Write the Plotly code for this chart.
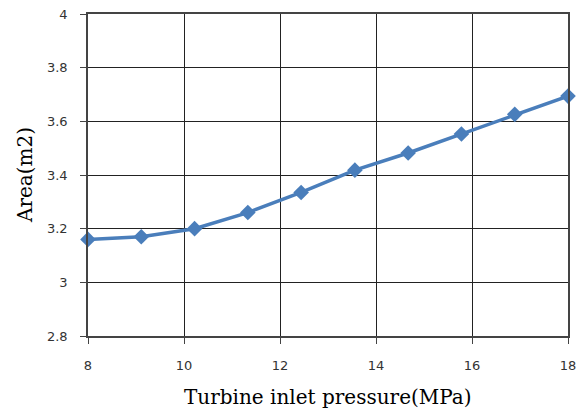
import plotly.graph_objects as go

pressure = [8, 9.11, 10.22, 11.33, 12.44, 13.56, 14.67, 15.78, 16.89, 18]
area = [3.16, 3.17, 3.20, 3.26, 3.335, 3.418, 3.482, 3.553, 3.626, 3.694]

x_title = "Turbine inlet pressure(MPa)"
y_title = "Area(m2)"

fig = go.Figure()
fig.add_trace(go.Scatter(
    x=pressure, y=area, mode="lines+markers",
    line=dict(color="#4a7ebb", width=3.5),
    marker=dict(symbol="diamond", size=12, color="#4a7ebb"),
    cliponaxis=False, showlegend=False,
))

tickfont = dict(family="DejaVu Sans", size=13, color="#333333")
titlefont = dict(family="DejaVu Serif", size=20, color="black")
fig.update_layout(
    width=581, height=414,
    margin=dict(l=88, r=13, t=14, b=78),
    paper_bgcolor="white", plot_bgcolor="white",
    xaxis=dict(
        range=[8, 18], dtick=2, tick0=8, automargin=False,
        showgrid=True, gridcolor="#222222", gridwidth=1.3,
        showline=True, linecolor="#444444", linewidth=1.5, mirror=True,
        ticks="outside", ticklen=6, tickcolor="#444444",
        tickfont=tickfont, ticklabelstandoff=11,
        zeroline=False,
    ),
    yaxis=dict(
        range=[2.8, 4], dtick=0.2, tick0=2.8, automargin=False,
        showgrid=True, gridcolor="#222222", gridwidth=1.3,
        showline=True, linecolor="#444444", linewidth=1.5, mirror=True,
        ticks="outside", ticklen=6, tickcolor="#444444",
        tickfont=tickfont, ticklabelstandoff=10,
        zeroline=False,
    ),
    annotations=[
        dict(text=x_title, xref="paper", yref="paper", x=0.5, y=0,
             yshift=-61, xanchor="center", yanchor="middle",
             showarrow=False, font=titlefont),
        dict(text=y_title, xref="paper", yref="paper", x=0, y=0.5,
             xshift=-63, xanchor="center", yanchor="middle", textangle=-90,
             showarrow=False, font=titlefont),
    ],
)

fig.write_html(
    "out.html",
    config={"displayModeBar": False},
    post_script="document.body.style.margin='0';document.body.style.padding='0';",
)
